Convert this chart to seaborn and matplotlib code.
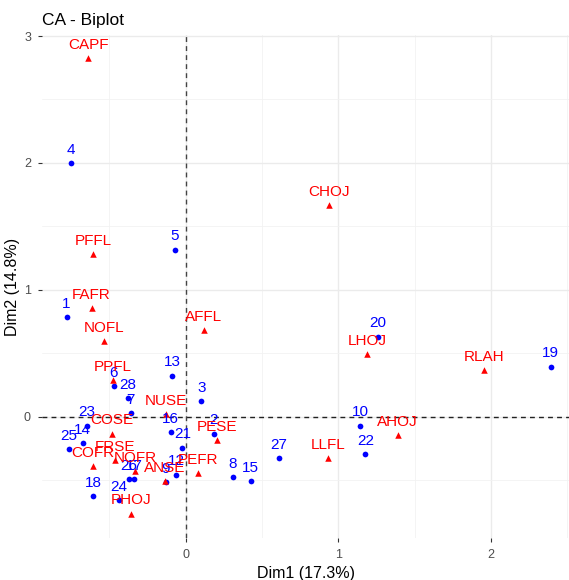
import numpy as np
import pandas as pd
import matplotlib
matplotlib.use("Agg")
import matplotlib.pyplot as plt
import seaborn as sns

# ************* DATA ******************************************

# rows (blue dots)
row_names = ["1", "2", "3", "4", "5", "6", "7", "8", "9", "10", "12", "13", "14", "15",
             "16", "17", "18", "19", "20", "21", "22", "23", "24", "25", "26", "27", "28"]
row_x = [-0.780, 0.183, 0.103, -0.752, -0.070, -0.471, -0.361, 0.309, -0.131, 1.144,
         -0.061, -0.090, -0.675, 0.425, -0.098, -0.338, -0.606, 2.390, 1.261, -0.022,
         1.176, -0.649, -0.436, -0.763, -0.371, 0.610, -0.377]
row_y = [0.782, -0.136, 0.120, 2.000, 1.315, 0.239, 0.026, -0.478, -0.517, -0.071,
         -0.459, 0.323, -0.210, -0.509, -0.124, -0.491, -0.630, 0.394, 0.630, -0.246,
         -0.294, -0.071, -0.661, -0.260, -0.491, -0.328, 0.144]

# columns (red triangles)
col_names = ["CAPF", "CHOJ", "PFFL", "FAFR", "NOFL", "AFFL", "LHOJ", "RLAH", "PPFL", "NUSE",
             "COSE", "PESE", "AHOJ", "LLFL", "FRSE", "COFR", "NOFR", "ANSE", "PEFR", "PHOJ"]
col_x = [-0.639, 0.941, -0.606, -0.616, -0.534, 0.120, 1.188, 1.954, -0.475, -0.131,
         -0.484, 0.207, 1.388, 0.935, -0.464, -0.610, -0.329, -0.137, 0.078, -0.359]
col_y = [2.824, 1.669, 1.281, 0.856, 0.593, 0.683, 0.494, 0.368, 0.289, 0.021,
         -0.136, -0.189, -0.144, -0.331, -0.346, -0.394, -0.431, -0.509, -0.445, -0.766]

dim1_label = "Dim1 (17.3%)"
dim2_label = "Dim2 (14.8%)"

rows = pd.DataFrame({"name": row_names, "x": row_x, "y": row_y})
cols = pd.DataFrame({"name": col_names, "x": col_x, "y": col_y})

# ************* PLOT *****************

sns.set_theme(style="white")
plt.rcParams["font.family"] = ["Liberation Sans", "DejaVu Sans"]

fig = plt.figure(figsize=(5.69, 5.80), dpi=100)
ax = fig.add_axes([0.074, 0.072, 0.926, 0.868])

# grid like ggplot theme_minimal
ax.set_xticks([0, 1, 2])
ax.set_yticks([0, 1, 2, 3])
ax.set_xticks([-0.5, 0.5, 1.5, 2.5], minor=True)
ax.set_yticks([-0.5, 0.5, 1.5, 2.5], minor=True)
ax.grid(True, which="major", color="#EBEBEB", linewidth=1.0)
ax.grid(True, which="minor", color="#F2F2F2", linewidth=0.6)
ax.set_axisbelow(True)

ax.axhline(0, color="#222222", linestyle=(0, (3.5, 3)), linewidth=1.0, zorder=1)
ax.axvline(0, color="#444444", linestyle=(0, (3.5, 3)), linewidth=1.0, zorder=1)

sns.scatterplot(data=rows, x="x", y="y", ax=ax, color="#0000FF", marker="o",
                s=17, linewidth=0, zorder=3)
for _, r in rows.iterrows():
    ax.annotate(r["name"], (r["x"], r["y"]), xytext=(0, 4.5), textcoords="offset points",
                ha="center", va="bottom", color="#0000FF", fontsize=11, zorder=4)

sns.scatterplot(data=cols, x="x", y="y", ax=ax, color="#FF0000", marker="^",
                s=22, linewidth=0, zorder=3)
for _, r in cols.iterrows():
    ax.annotate(r["name"], (r["x"], r["y"]), xytext=(0, 4.5), textcoords="offset points",
                ha="center", va="bottom", color="#FF0000", fontsize=11, zorder=4)

ax.set_xlim(-0.94, 2.51)
ax.set_ylim(-0.96, 3.01)

for s in ax.spines.values():
    s.set_visible(False)

ax.tick_params(axis="both", which="major", length=3, width=0.8, color="#333333",
               labelsize=9, labelcolor="#4D4D4D", pad=5, bottom=True, left=True)
ax.tick_params(axis="both", which="minor", length=0)

ax.set_xlabel(dim1_label, fontsize=11.5, color="black", labelpad=3)
ax.set_ylabel(dim2_label, fontsize=11.5, color="black", labelpad=3)
ax.set_title("CA - Biplot", loc="left", fontsize=12.5, color="black", pad=7)

fig.savefig("out.png", dpi=100)
